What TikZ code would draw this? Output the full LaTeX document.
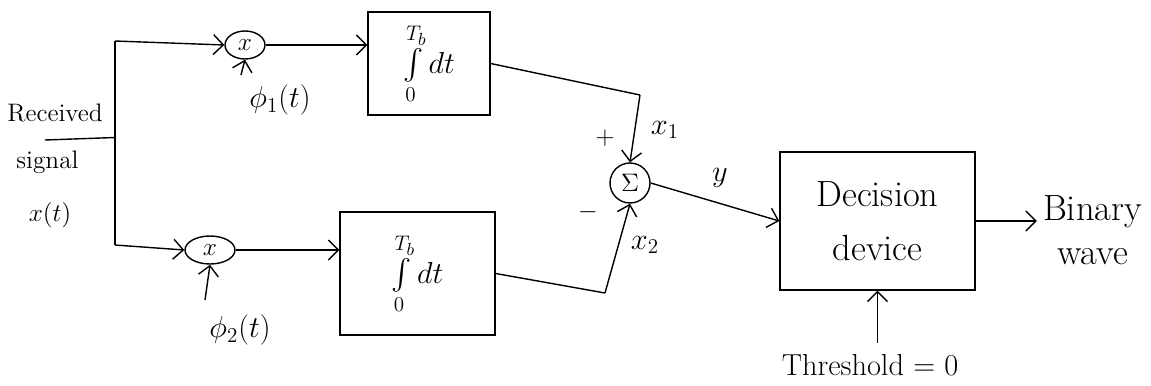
\documentclass[tikz,border=0pt]{standalone}
\usepackage{amsmath,amssymb}
\usepackage{tikz}
\usetikzlibrary{arrows.meta,positioning,calc,shapes.geometric}

\begin{document}
\begin{tikzpicture}[
    block/.style={rectangle, draw, thick, minimum width=#1, text centered, align=center},
    block/.default=2.5cm,
    mult/.style={ellipse, draw, thick, minimum width=#1, minimum height=0.56cm, inner sep=0pt, font=\Large},
    mult/.default=0.8cm,
    adder/.style={circle, draw, thick, minimum size=0.8cm, inner sep=0pt, font=\Large},
    lbl/.style={font=\Large},
    big/.style={font=\LARGE},
    arr/.style={-{Straight Barb[length=2mm]}, thick},
    wire/.style={thick}
]
\useasboundingbox (0,0) rectangle (23.02,-7.7);

% Input and split
\coordinate (in) at (0.9,-2.8);
\coordinate (split) at (2.3,-2.75);
\coordinate (top) at (2.3,-0.82);
\coordinate (bot) at (2.3,-4.9);
\node[lbl] (rx1) at (1.1,-2.25) {Received};
\node[lbl] (rx2) at (0.95,-3.25) {signal};
\node[lbl] (rx3) at (1.0,-4.3) {$x(t)$};

% Correlator 1
\node[mult] (m1) at (4.9,-0.9) {$x$};
\node[block, minimum width=2.44cm, minimum height=2.06cm, font=\LARGE] (int1) at (8.58,-1.27)
    {$\int\limits_0^{T_b} dt$};
\node[big] (phi1) at (5.6,-2.0) {$\phi_1(t)$};
\coordinate (phi1in) at (4.82,-1.5);

% Correlator 2
\node[mult=1cm] (m2) at (4.2,-5.0) {$x$};
\node[block, minimum width=3.1cm, minimum height=2.46cm, font=\LARGE] (int2) at (8.35,-5.47)
    {$\int\limits_0^{T_b} dt$};
\node[big] (phi2) at (4.8,-6.6) {$\phi_2(t)$};
\coordinate (phi2in) at (4.1,-6.0);

% Summer
\node[adder] (sum) at (12.6,-3.66) {$\Sigma$};
\coordinate (c1) at (12.8,-1.9);
\coordinate (c2) at (12.1,-5.86);
\node[big] (x1) at (13.3,-2.6) {$x_1$};
\node[lbl] (pl) at (12.1,-2.76) {$+$};
\node[big] (x2) at (12.9,-4.9) {$x_2$};
\node[lbl] (mn) at (11.76,-4.24) {$-$};
\node[big] (y) at (14.4,-3.56) {$y$};

% Decision device
\node[block, minimum width=3.9cm, minimum height=2.76cm, font=\huge] (dec) at (17.55,-4.42)
    {Decision\\[6pt]device};
\node[align=center, font=\huge] (out) at (21.85,-4.6) {Binary\\wave};
\node[big] (thr) at (17.4,-7.3) {Threshold = 0};

% -- Connections --
\draw[wire] (in) -- (split);
\draw[wire] (top) -- (bot);
\draw[arr] (top) -- (m1.west);
\draw[arr] (bot) -- (m2.west);
\draw[arr] (phi1in) -- (m1.south);
\draw[arr] (phi2in) -- (m2.south);
\draw[arr] (m1.east) -- (int1.west |- m1.east);
\draw[arr] (m2.east) -- (int2.west |- m2.east);
\draw[wire] (int1.east) -- (c1);
\draw[arr] (c1) -- (sum.north);
\draw[wire] (int2.east) -- (c2);
\draw[arr] (c2) -- (sum.south);
\draw[arr] (sum.east) -- (dec.west);
\draw[arr] (dec.east) -- (out.west |- dec.east);
\draw[arr] (thr.north -| dec.south) ++(0,0.1) -- (dec.south);

\end{tikzpicture}
\end{document}
